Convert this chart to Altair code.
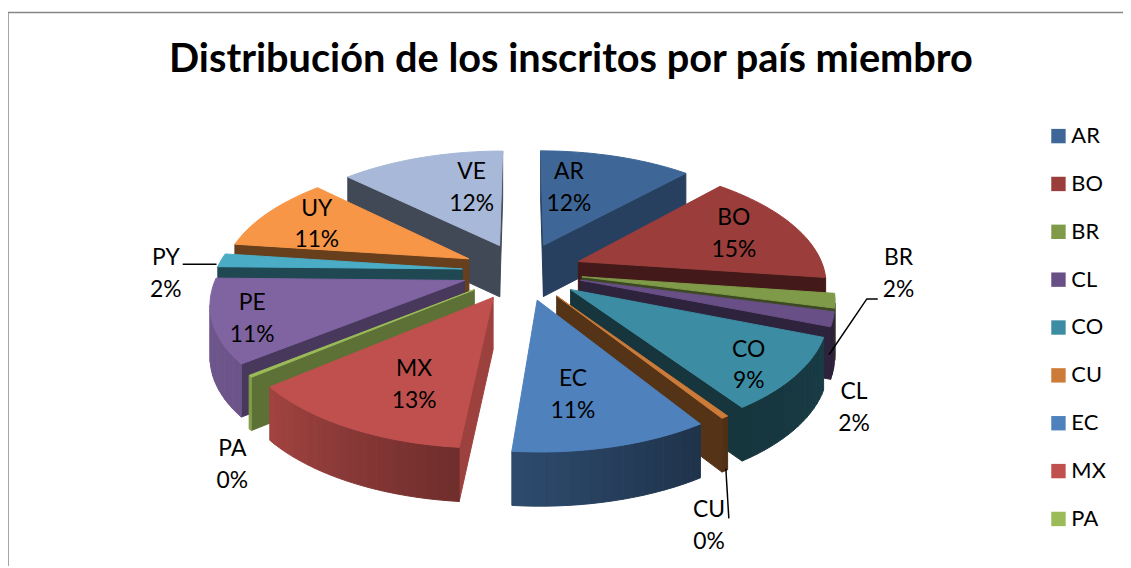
import math
import altair as alt
import numpy as np
import pandas as pd

TITLE = "Distribución de los inscritos por país miembro"
CATS = ["AR", "BO", "BR", "CL", "CO", "CU", "EC", "MX", "PA", "PE", "PY", "UY", "VE"]
VALUES = [11.9, 15.4, 1.9, 1.9, 9.6, 0.4, 10.6, 12.6, 0.25, 11.1, 1.8, 10.2, 12.8]
PCT = ["12%", "15%", "2%", "2%", "9%", "0%", "11%", "13%", "0%", "11%", "2%", "11%", "12%"]
COLORS = ["#3E6797", "#9A3D3B", "#7F9A48", "#684F86", "#3C8DA3", "#CC7B38", "#4F81BD",
          "#C0504D", "#9BBB59", "#8064A2", "#4BACC6", "#F79646", "#A7B8D8"]
RADIAL_SHADE = [.63, .44, .48, .45, .38, .42, .40, .82, .60, .57, .42, .42, .40]

# layout: plot origin on the page, projection of the tilted pie
OX, OY = 8, 8
CX, CY = 526, 271
A, B, H, K, EXPL = 248, 118, 52, 0.16, 0.245
LABEL_OFFSET = [(47, -84), (213, -37), (379, 3), (334, 138), (228, 95), (188, 257), (51, 125),
                (-109, 115), (-292, 195), (-272, 48), (-359, 3), (-207, -47), (-51, -84)]
LEADERS = [[(184, 264), (218, 264)], [(884, 299), (873, 299), (835, 355)], [(731, 470), (734, 520)]]


def shade(hex_color, f):
    r, g, b = [int(hex_color[i:i + 2], 16) for i in (1, 3, 5)]
    return "#%02x%02x%02x" % (int(r * f), int(g * f), int(b * f))


def proj(X, Y, z):
    s = 1 / (1 - K * Y)
    return [CX + A * X * s - OX, CY + B * Y * s + H * z * (1 + 0.04 * Y) - OY]


def area2(pts):
    return sum(pts[i][0] * pts[(i + 1) % len(pts)][1] - pts[(i + 1) % len(pts)][0] * pts[i][1]
               for i in range(len(pts)))


def polygon(pts, fill):
    ring = [list(p) for p in pts] + [list(pts[0])]
    return {"type": "Feature", "geometry": {"type": "Polygon", "coordinates": [ring]},
            "properties": {"fill": fill}}


total = sum(VALUES)
edges = np.cumsum([0] + VALUES) / total * 360
slices = []
for i, cat in enumerate(CATS):
    t0, t1 = edges[i], edges[i + 1]
    slices.append((-math.cos(math.radians((t0 + t1) / 2)), i, t0, t1))

features = []
for _, i, t0, t1 in sorted(slices):
    mid = math.radians((t0 + t1) / 2)
    ax, ay = EXPL * math.sin(mid), -EXPL * math.cos(mid)
    n = max(2, int((t1 - t0) / 2))
    ths = np.linspace(t0, t1, n + 1)
    rim = [(ax + math.sin(math.radians(t)), ay - math.cos(math.radians(t))) for t in ths]
    col = COLORS[i]
    side = []
    # radial faces and rim strips, culled by facing
    loop = [(ax, ay)] + rim + [(ax, ay)]
    for j in range(len(loop) - 1):
        p, q = loop[j], loop[j + 1]
        quad = [proj(*p, 0), proj(*q, 0), proj(*q, 1), proj(*p, 1)]
        if area2(quad) < 0:
            if j == 0 or j == len(loop) - 2:
                f = RADIAL_SHADE[i]
            else:
                t = (ths[j - 1] + ths[j]) / 2
                f = float(np.interp(t, [100, 145, 184, 230, 280], [.45, .38, .58, .85, .9]))
                if 184 <= t0 < 231:
                    f = float(np.interp(t, [184, 231], [.57, .85]))
                if 144 <= t0 < 185:
                    f = float(np.interp(t, [144, 185], [.38, .58]))
            side.append(polygon(quad, shade(col, f)))
    features += side
    features.append(polygon([proj(ax, ay, 0)] + [proj(x, y, 0) for x, y in rim], col))

pie = alt.Chart(alt.Data(values=features)).mark_geoshape(strokeWidth=1).encode(
    fill=alt.Fill("properties.fill:N", scale=None),
    stroke=alt.Stroke("properties.fill:N", scale=None),
).project(type="identity", scale=1, translate=[0, 0])

rows = []
for i, cat in enumerate(CATS):
    dx, dy = LABEL_OFFSET[i]
    rows.append({"t": cat, "x": CX + dx - OX, "y": CY + dy - 16 - OY})
    rows.append({"t": PCT[i], "x": CX + dx - OX, "y": CY + dy + 16 - OY})
labels = alt.Chart(pd.DataFrame(rows)).mark_text(font="Lato", fontSize=23, color="#000000").encode(
    x=alt.X("x:Q", scale=None), y=alt.Y("y:Q", scale=None), text="t:N")

lead_rows = [{"k": k, "o": o, "x": x - OX, "y": y - OY}
             for k, line in enumerate(LEADERS) for o, (x, y) in enumerate(line)]
leaders = alt.Chart(pd.DataFrame(lead_rows)).mark_line(color="#000000", strokeWidth=1.5).encode(
    x=alt.X("x:Q", scale=None), y=alt.Y("y:Q", scale=None), detail="k:N", order="o:Q")

legend_chart = alt.Chart(pd.DataFrame({"c": CATS})).mark_square(size=0).encode(
    x=alt.value(-50), y=alt.value(-50),
    color=alt.Color("c:N", scale=alt.Scale(domain=CATS, range=COLORS), sort=CATS, legend=alt.Legend(
        title=None, orient="none", legendX=1055 - OX, legendY=136 - OY - 12, symbolType="square",
        symbolSize=210, symbolOpacity=1, symbolStrokeWidth=0, labelFont="Lato", labelFontSize=22, labelColor="#000000",
        labelOffset=2, rowPadding=26.2, labelLimit=80, columns=1, values=CATS[:9])),
)

title = alt.Chart(pd.DataFrame({"t": [TITLE]})).mark_text(
    font="Lato", fontSize=40, fontWeight="bold", color="#000000", align="center", baseline="middle"
).encode(x=alt.value(575 - OX), y=alt.value(58 - OY), text="t:N")

one = pd.DataFrame({"a": [0]})
border_l = alt.Chart(one).mark_rule(color="#868686", strokeWidth=1.5).encode(
    x=alt.value(0), y=alt.value(10.5 - OY), y2=alt.value(568 - OY))
border_t = alt.Chart(one).mark_rule(color="#868686", strokeWidth=1.5).encode(
    y=alt.value(10.5 - OY), x=alt.value(0), x2=alt.value(1131 - OX))

chart = alt.layer(border_l, border_t, title, pie, leaders, labels, legend_chart).properties(
    width=1131 - OX, height=568 - OY,
    padding=0,
    autosize=alt.AutoSizeParams(type="none"),
    background="#ffffff",
).configure_view(stroke=None)

chart.save("out.html", embed_options={"renderer": "svg", "actions": False})
